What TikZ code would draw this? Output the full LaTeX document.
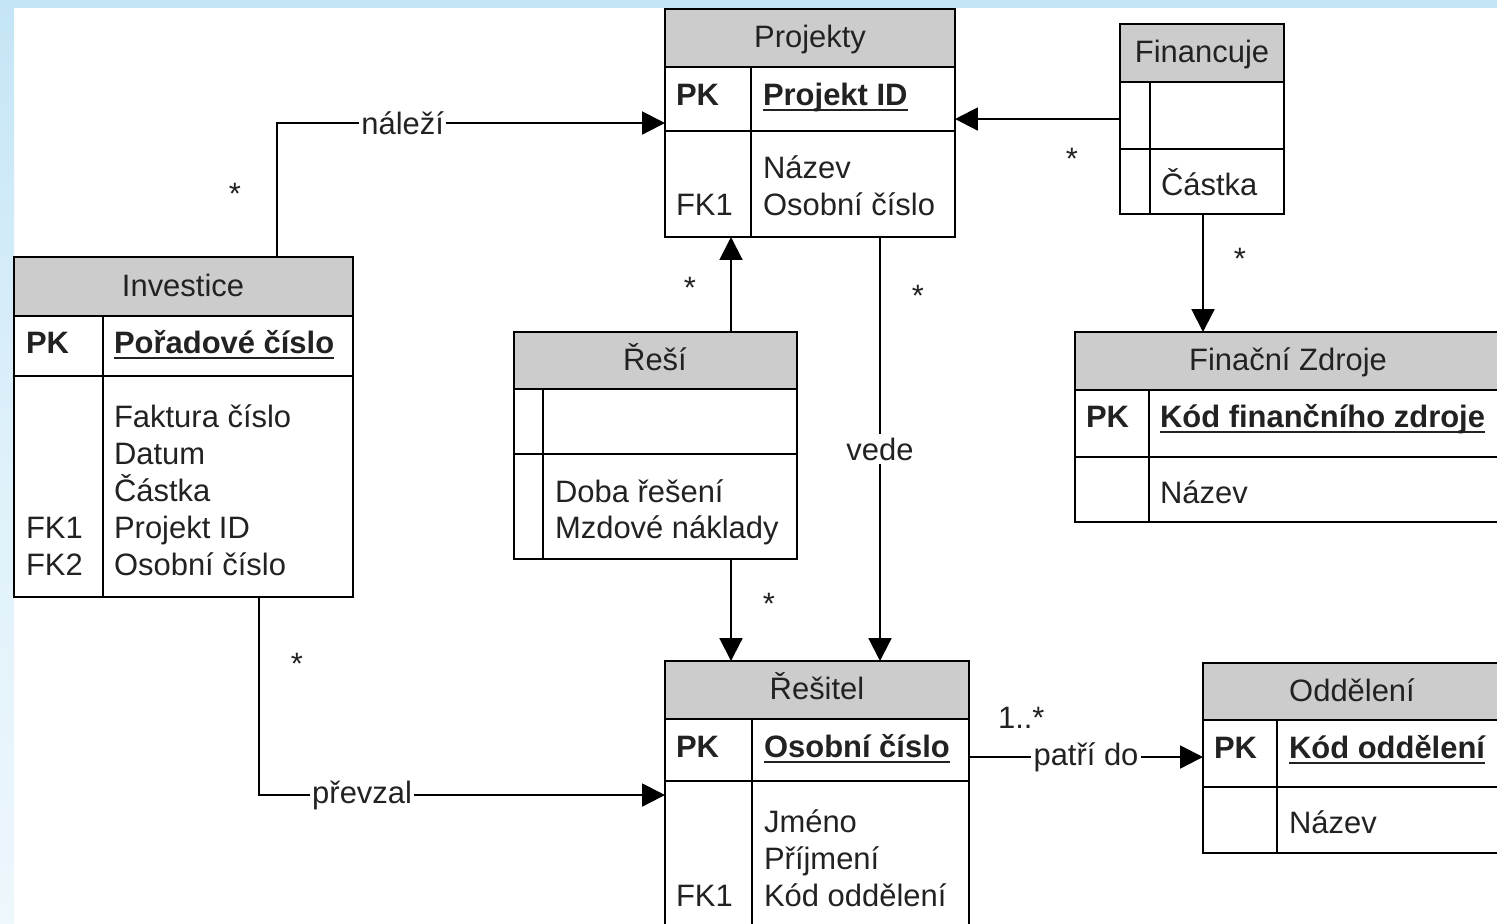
\documentclass[tikz,border=0pt]{standalone}
\usepackage{fontspec}
\setmainfont{Liberation Sans}
\usetikzlibrary{arrows.meta}

\definecolor{hdrgray}{HTML}{CCCCCC}
\definecolor{skyband}{HTML}{C4E5F6}
\definecolor{inkgray}{HTML}{222222}

\newcommand{\keyul}[1]{\textbf{\underline{\smash{#1}}}}

\begin{document}
\begin{tikzpicture}[x=0.01cm, y=-0.01cm, line width=0.6pt,
  font={\fontsize{8.8pt}{10.5pt}\selectfont}, text=inkgray,
  hdr/.style={fill=hdrgray},
  title/.style={anchor=base, inner sep=0pt},
  txt/.style={anchor=base west, inner sep=0pt},
  mult/.style={anchor=base, inner sep=0pt},
  lbl/.style={fill=white, inner xsep=0.6pt, inner ysep=1pt},
  arr/.style={-{Triangle[length=6.5pt,width=6.5pt]}}]

  \useasboundingbox (0,0) rectangle (1497,923);
  \clip (0,0) rectangle (1497,923);
  \fill[white] (0,0) rectangle (1497,923);
  \fill[skyband] (0,0) rectangle (1497,8);
  \shade[top color=skyband, bottom color=skyband!30, middle color=skyband!55] (0,0) rectangle (14,923);

  % Projekty
  \filldraw[hdr] (665,9) rectangle (955,67);
  \draw (665,67) rectangle (955,237);
  \draw (665,131) -- (955,131);
  \draw (751,67) -- (751,237);
  \node[title] (projTitle) at (810,47) {Projekty};
  \node[txt] (projPK) at (675,105) {\textbf{PK}};
  \node[txt] (projId) at (762,105) {\keyul{Projekt ID}};
  \node[txt] (projNazev) at (762,178) {Název};
  \node[txt] (projFK) at (675,215) {FK1};
  \node[txt] (projOsc) at (762,215) {Osobní číslo};

  % Financuje
  \filldraw[hdr] (1120,24) rectangle (1284,82);
  \draw (1120,82) rectangle (1284,214);
  \draw (1120,149) -- (1284,149);
  \draw (1150,82) -- (1150,214);
  \node[title] (finTitle) at (1202,62) {Financuje};
  \node[txt] (finCastka) at (1160,195) {Částka};

  % Investice
  \filldraw[hdr] (14,257) rectangle (353,316);
  \draw (14,316) rectangle (353,597);
  \draw (14,376) -- (353,376);
  \draw (103,316) -- (103,597);
  \node[title] (invTitle) at (183,296) {Investice};
  \node[txt] (invPK) at (25,353) {\textbf{PK}};
  \node[txt] (invPor) at (113,353) {\keyul{Pořadové číslo}};
  \node[txt] (invFakt) at (113,427) {Faktura číslo};
  \node[txt] (invDatum) at (113,464) {Datum};
  \node[txt] (invCastka) at (113,501) {Částka};
  \node[txt] (invFKa) at (25,538) {FK1};
  \node[txt] (invProj) at (113,538) {Projekt ID};
  \node[txt] (invFKb) at (25,575) {FK2};
  \node[txt] (invOsc) at (113,575) {Osobní číslo};

  % Reší
  \filldraw[hdr] (514,332) rectangle (797,389);
  \draw (514,389) rectangle (797,559);
  \draw (514,454) -- (797,454);
  \draw (543,389) -- (543,559);
  \node[title] (resiTitle) at (655,370) {Řeší};
  \node[txt] (resiDoba) at (554,502) {Doba řešení};
  \node[txt] (resiMzdy) at (554,538) {Mzdové náklady};

  % Finacni Zdroje
  \filldraw[hdr] (1075,332) rectangle (1501,390);
  \draw (1075,390) rectangle (1501,522);
  \draw (1075,457) -- (1501,457);
  \draw (1149,390) -- (1149,522);
  \node[title] (zdrTitle) at (1288,370) {Finační Zdroje};
  \node[txt] (zdrPK) at (1085,427) {\textbf{PK}};
  \node[txt] (zdrKod) at (1159,427) {\keyul{Kód finančního zdroje}};
  \node[txt] (zdrNazev) at (1159,503) {Název};

  % Resitel
  \filldraw[hdr] (665,661) rectangle (969,719);
  \draw (665,719) rectangle (969,940);
  \draw (665,781) -- (969,781);
  \draw (752,719) -- (752,940);
  \node[title] (reslTitle) at (817,699) {Řešitel};
  \node[txt] (reslPK) at (675,757) {\textbf{PK}};
  \node[txt] (reslOsc) at (763,757) {\keyul{Osobní číslo}};
  \node[txt] (reslJmeno) at (763,832) {Jméno};
  \node[txt] (reslPrijm) at (763,869) {Příjmení};
  \node[txt] (reslFK) at (675,906) {FK1};
  \node[txt] (reslKod) at (763,906) {Kód oddělení};

  % Oddeleni
  \filldraw[hdr] (1203,663) rectangle (1501,720);
  \draw (1203,720) rectangle (1501,853);
  \draw (1203,787) -- (1501,787);
  \draw (1277,720) -- (1277,853);
  \node[title] (oddTitle) at (1352,701) {Oddělení};
  \node[txt] (oddPK) at (1213,758) {\textbf{PK}};
  \node[txt] (oddKod) at (1288,758) {\keyul{Kód oddělení}};
  \node[txt] (oddNazev) at (1288,833) {Název};

  % connectors
  \coordinate (invN) at (277,257);
  \coordinate (invS) at (259,597);
  \coordinate (projW) at (665,123);
  \coordinate (projE) at (955,119);
  \coordinate (projSa) at (731,237);
  \coordinate (projSb) at (880,237);
  \coordinate (finW) at (1120,119);
  \coordinate (finS) at (1203,214);
  \coordinate (zdrN) at (1203,332);
  \coordinate (resiN) at (731,332);
  \coordinate (resiS) at (731,559);
  \coordinate (reslNa) at (731,661);
  \coordinate (reslNb) at (880,661);
  \coordinate (reslW) at (665,795);
  \coordinate (reslE) at (969,757);
  \coordinate (oddW) at (1203,757);

  \draw[arr] (invN) |- node[lbl, pos=0.662] (nalezi) {náleží} (projW);
  \draw[arr] (invS) |- node[lbl, pos=0.627] (prevzal) {převzal} (reslW);
  \draw[arr] (finW) -- (projE);
  \draw[arr] (finS) -- (zdrN);
  \draw[arr] (resiN) -- (projSa);
  \draw[arr] (resiS) -- (reslNa);
  \draw[arr] (projSb) -- node[lbl] (vede) {vede} (reslNb);
  \draw[arr] (reslE) -- node[lbl] (patri) {patří do} (oddW);

  \node[mult] (mInv) at (235,204) {*};
  \node[mult] (mFin) at (1072,169) {*};
  \node[mult] (mZdr) at (1240,269) {*};
  \node[mult] (mResi) at (690,298) {*};
  \node[mult] (mVede) at (918,306) {*};
  \node[mult] (mResl) at (769,614) {*};
  \node[mult] (mPrev) at (297,674) {*};
  \node[txt] (mOdd) at (997,728) {1..*};
\end{tikzpicture}
\end{document}
